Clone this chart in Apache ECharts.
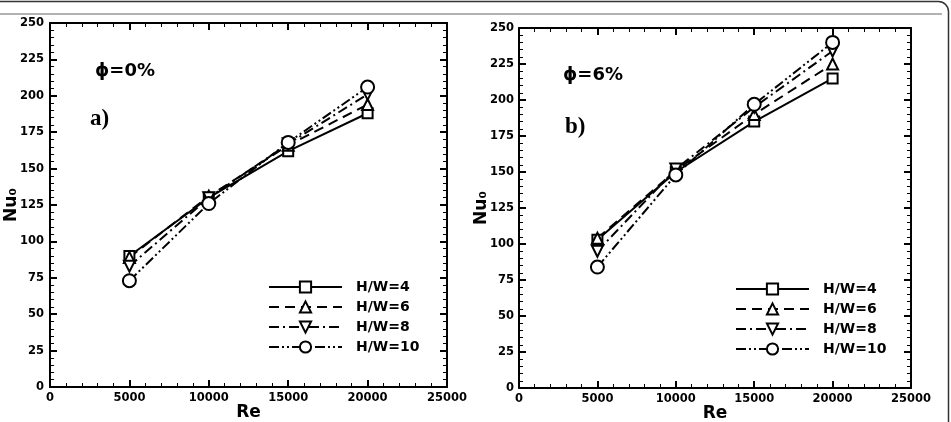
<!DOCTYPE html>
<html>
<head>
<meta charset="utf-8">
<script src="https://cdn.jsdelivr.net/npm/echarts@6/dist/echarts.min.js"></script>
<style>
  html, body { margin: 0; padding: 0; background: #fff; }
  #chart { width: 951px; height: 422px; }
</style>
</head>
<body>
<div id="chart"></div>
<script>
// Reynolds numbers (x)
const re = [5000, 10000, 15000, 20000];
const names = ['H/W=4', 'H/W=6', 'H/W=8', 'H/W=10'];

// a) phi = 0%
const a_hw4 = [90, 130, 162, 188];
const a_hw6 = [89, 131, 166, 194];
const a_hw8 = [83, 130, 167, 201];
const a_hw10 = [73, 126, 168, 206];

// b) phi = 6%
const b_hw4 = [103, 150, 185, 215];
const b_hw6 = [104, 151, 190, 225];
const b_hw8 = [95, 152, 195, 234];
const b_hw10 = [84, 148, 197, 240];

const xTicks = [0, 5000, 10000, 15000, 20000, 25000];
const yTicks = [0, 25, 50, 75, 100, 125, 150, 175, 200, 225, 250];

const FONT = 'DejaVu Sans';
const dashes = ['solid', [10, 6], [10, 4, 2, 4], [10, 3, 2, 3, 2, 3]];
const symbols = ['emptyRect', 'emptyTriangle', 'emptyTriangle', 'emptyCircle'];
const rotates = [0, 0, 180, 0];
const sizes = [10, 11, 11, 13];

const chart = echarts.init(document.getElementById('chart'));

function xAxisFor(grid, top) {
  return {
    type: 'value', gridIndex: grid, position: top ? 'top' : 'bottom',
    min: xTicks[0], max: xTicks[xTicks.length - 1], interval: xTicks[1] - xTicks[0],
    name: top ? '' : 'Re', nameLocation: 'middle', nameGap: 17, nameMoveOverlap: false,
    nameTextStyle: { fontFamily: FONT, fontWeight: 'bold', fontSize: 17, color: '#000' },
    axisLine: { show: true, onZero: false, lineStyle: { color: '#000', width: 2 } },
    axisTick: { show: true, inside: true, length: 7, lineStyle: { color: '#000', width: 2 } },
    minorTick: { show: true, splitNumber: 5, length: 4, lineStyle: { color: '#000', width: 1 } },
    axisLabel: {
      show: !top, margin: 5, fontFamily: FONT, fontWeight: 'bold', fontSize: 11.5, color: '#000',
      formatter: v => String(v)
    },
    splitLine: { show: false }
  };
}

function yAxisFor(grid, right, labelMargin, gap) {
  return {
    type: 'value', gridIndex: grid, position: right ? 'right' : 'left',
    min: yTicks[0], max: yTicks[yTicks.length - 1], interval: yTicks[1] - yTicks[0],
    name: right ? '' : 'Nu₀', nameLocation: 'middle', nameGap: gap, nameMoveOverlap: false,
    nameTextStyle: { fontFamily: FONT, fontWeight: 'bold', fontSize: 17, color: '#000' },
    axisLine: { show: true, onZero: false, lineStyle: { color: '#000', width: 2 } },
    axisTick: { show: true, inside: true, length: 7, lineStyle: { color: '#000', width: 2 } },
    minorTick: { show: true, splitNumber: 5, length: 4, lineStyle: { color: '#000', width: 1 } },
    axisLabel: { show: !right, margin: labelMargin, fontFamily: FONT, fontWeight: 'bold', fontSize: 11.5, color: '#000' },
    splitLine: { show: false }
  };
}

function makeSeries(arrs, xi, yi) {
  return arrs.map((vals, i) => ({
    name: names[i], type: 'line', xAxisIndex: xi, yAxisIndex: yi,
    data: re.map((x, k) => [x, vals[k]]),
    symbol: symbols[i], symbolSize: sizes[i], symbolRotate: rotates[i],
    itemStyle: { color: '#000', borderWidth: 2 },
    lineStyle: { color: '#000', width: 2, type: dashes[i] },
    emphasis: { disabled: true }
  }));
}

function legendFor(left, top) {
  return {
    show: true, orient: 'vertical', left: left, top: top,
    data: names, itemWidth: 73, itemHeight: 14, itemGap: 6,
    selectedMode: false,
    textStyle: { fontFamily: FONT, fontWeight: 'bold', fontSize: 14, color: '#000', padding: [0, 0, 0, 9] }
  };
}

const option = {
  animation: false,
  backgroundColor: '#fff',
  grid: [
    { left: 50, top: 23, width: 397, height: 364, containLabel: false, outerBoundsMode: 'none' },
    { left: 519, top: 28, width: 392, height: 360, containLabel: false, outerBoundsMode: 'none' }
  ],
  xAxis: [xAxisFor(0, false), xAxisFor(0, true), xAxisFor(1, false), xAxisFor(1, true)],
  yAxis: [yAxisFor(0, false, 6, 30), yAxisFor(0, true, 6, 30), yAxisFor(1, false, 5, 29), yAxisFor(1, true, 5, 29)],
  legend: [legendFor(263, 275), legendFor(730, 277)],
  series: [
    ...makeSeries([a_hw4, a_hw6, a_hw8, a_hw10], 0, 0),
    ...makeSeries([b_hw4, b_hw6, b_hw8, b_hw10], 2, 2)
  ],
  graphic: [
    { type: 'rect', silent: true, shape: { x: -20, y: 1.5, width: 968.5, height: 440, r: 10 },
      style: { fill: 'none', stroke: '#333', lineWidth: 1.5 } },
    { type: 'line', silent: true, shape: { x1: 0, y1: 14, x2: 942, y2: 14 },
      style: { stroke: '#999', lineWidth: 1.5 } },
    { type: 'text', left: 95, top: 62, style: { text: 'ϕ=0%', font: 'bold 18px "DejaVu Sans"', fill: '#000' } },
    { type: 'text', left: 90, top: 108, style: { text: 'a)', font: 'bold 23px "Liberation Serif"', fill: '#000' } },
    { type: 'text', left: 563, top: 66, style: { text: 'ϕ=6%', font: 'bold 18px "DejaVu Sans"', fill: '#000' } },
    { type: 'text', left: 565, top: 116, style: { text: 'b)', font: 'bold 23px "Liberation Serif"', fill: '#000' } }
  ]
};

chart.setOption(option);
</script>
</body>
</html>
